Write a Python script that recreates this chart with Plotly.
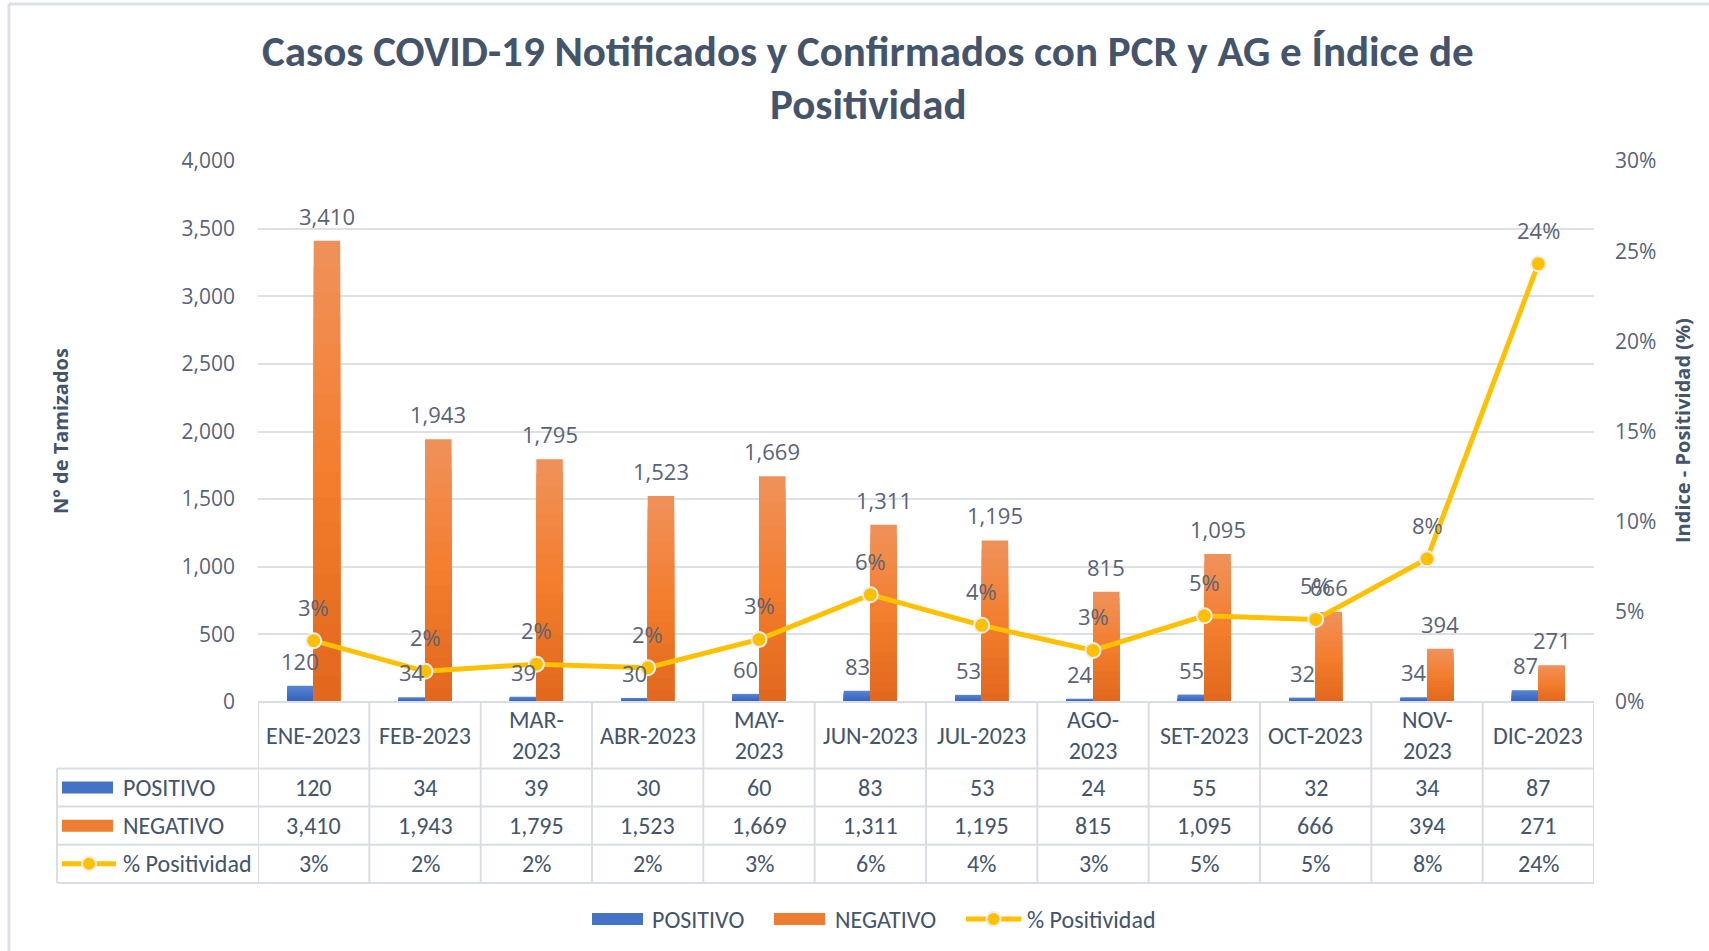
import plotly.graph_objects as go

# ---- data ----
months = ["ENE-2023", "FEB-2023", "MAR-2023", "ABR-2023", "MAY-2023", "JUN-2023",
          "JUL-2023", "AGO-2023", "SET-2023", "OCT-2023", "NOV-2023", "DIC-2023"]
header_labels = ["ENE-2023", "FEB-2023", "MAR-<br>2023", "ABR-2023", "MAY-<br>2023", "JUN-2023",
                 "JUL-2023", "AGO-<br>2023", "SET-2023", "OCT-2023", "NOV-<br>2023", "DIC-2023"]
positivo = [120, 34, 39, 30, 60, 83, 53, 24, 55, 32, 34, 87]
negativo = [3410, 1943, 1795, 1523, 1669, 1311, 1195, 815, 1095, 666, 394, 271]
positividad = [0.034, 0.017, 0.021, 0.019, 0.0347, 0.0595, 0.0425, 0.0286, 0.0478, 0.0458, 0.0794, 0.243]

left_ticks = [0, 500, 1000, 1500, 2000, 2500, 3000, 3500, 4000]
right_ticks = [0, 0.05, 0.10, 0.15, 0.20, 0.25, 0.30]

title_lines = ["Casos COVID-19 Notificados y Confirmados con PCR y AG e Índice de", "Positividad"]
series_names = ["POSITIVO", "NEGATIVO", "% Positividad"]

# ---- geometry (pixels) ----
W, H = 1709, 951
PL, PR, PT, PB = 258, 1594, 161, 702


def xp(px):
    return (px - PL) / (PR - PL)


def yp(py):
    return (PB - py) / (PB - PT)


BW = 0.238                      # bar width in category units
CAT_PX = (PR - PL) / len(months)
BW_PX = BW * CAT_PX

TXT = "#44546A"
TICK = "#5A6376"
GRID = "#DDE1E7"
BLUE = "#4472C4"
ORANGE = "#ED7D31"
GOLD = "#FFC000"
LABEL_FONT = "Segoe UI, Open Sans, Noto Sans, sans-serif"
TABLE_FONT = "Calibri, Lato, sans-serif"


def hex_to_rgb(h):
    h = h.lstrip("#")
    return tuple(int(h[i:i + 2], 16) for i in (0, 2, 4))


def interp(stops, f):
    for (f0, c0), (f1, c1) in zip(stops, stops[1:]):
        if f0 <= f <= f1:
            t = (f - f0) / (f1 - f0) if f1 > f0 else 0
            a, b = hex_to_rgb(c0), hex_to_rgb(c1)
            return "rgb(%d,%d,%d)" % tuple(round(a[i] + (b[i] - a[i]) * t) for i in range(3))
    return stops[-1][1]


blue_stops = [(0.0, "#3763B8"), (0.5, "#4472C8"), (1.0, "#5A86D3")]
orange_stops = [(0.0, "#E1671C"), (0.5, "#F47E2D"), (1.0, "#F0915C")]

fig = go.Figure()


def gradient_bars(values, stops, offset, n=18):
    # layered bars: each layer covers the lower part of the bar, giving a vertical gradient
    for k in range(n):
        f_top = 1 - k / n
        f_mid = f_top - 0.5 / n
        fig.add_trace(go.Bar(
            x=months, y=[v * f_top for v in values], width=BW, offset=offset,
            marker=dict(color=interp(stops, f_mid), line=dict(width=0)),
            showlegend=False, hoverinfo="skip", yaxis="y"))


gradient_bars(positivo, blue_stops, -BW)
gradient_bars(negativo, orange_stops, 0)

fig.add_trace(go.Scatter(
    x=months, y=positividad, yaxis="y2", mode="lines+markers", name=series_names[2],
    line=dict(color=GOLD, width=5),
    marker=dict(size=15, color=GOLD, line=dict(color="#EEEEEE", width=2)),
    showlegend=False))

ann = []
shapes = []

# data labels
lab_font = dict(family=LABEL_FONT, size=22, color=TICK)
for m, v in zip(months, positivo):
    ann.append(dict(x=m, y=v, xref="x", yref="y", text=f"{v:,}", showarrow=False,
                    xshift=-BW_PX / 2, yshift=25, font=lab_font))
for m, v in zip(months, negativo):
    ann.append(dict(x=m, y=v, xref="x", yref="y", text=f"{v:,}", showarrow=False,
                    xshift=BW_PX / 2, yshift=25, font=lab_font))
for m, v in zip(months, positividad):
    ann.append(dict(x=m, y=v, xref="x", yref="y2", text=f"{v:.0%}", showarrow=False,
                    yshift=34, font=lab_font))

# title
for line, ypix in zip(title_lines, [52, 104]):
    ann.append(dict(x=xp(868), y=yp(ypix), xref="paper", yref="paper", text=f"<b>{line}</b>",
                    showarrow=False, xanchor="center", yanchor="middle",
                    font=dict(family=TABLE_FONT, size=43, color=TXT)))

# axis titles
ann.append(dict(x=xp(60), y=yp(431), xref="paper", yref="paper", text="<b>N° de Tamizados</b>",
                textangle=-90, showarrow=False, xanchor="center", yanchor="middle",
                font=dict(family=LABEL_FONT, size=20, color=TXT)))
ann.append(dict(x=xp(1682), y=yp(431), xref="paper", yref="paper", text="<b>Indice - Positividad (%)</b>",
                textangle=-90, showarrow=False, xanchor="center", yanchor="middle",
                font=dict(family=LABEL_FONT, size=20, color=TXT)))

# ---- data table below the plot ----
row_top = [702, 768.4, 806.6, 844.7, 882.9]
header_c = (row_top[0] + row_top[1]) / 2
row_c = [(row_top[i] + row_top[i + 1]) / 2 for i in range(1, 4)]
tfont = dict(family=TABLE_FONT, size=24, color=TXT)
LINE = dict(color="#D9DEE5", width=2)

for m, lab in zip(months, header_labels):
    ann.append(dict(x=m, y=yp(header_c), xref="x", yref="paper", text=lab, showarrow=False,
                    xanchor="center", yanchor="middle", font=tfont))
rows = [[f"{v:,}" for v in positivo], [f"{v:,}" for v in negativo], [f"{v:.0%}" for v in positividad]]
for r, vals in enumerate(rows):
    for m, t in zip(months, vals):
        ann.append(dict(x=m, y=yp(row_c[r]), xref="x", yref="paper", text=t, showarrow=False,
                        xanchor="center", yanchor="middle", font=tfont))
    ann.append(dict(x=xp(121), y=yp(row_c[r]), xref="paper", yref="paper", text=series_names[r],
                    showarrow=False, xanchor="left", yanchor="middle", font=tfont))

# grid lines of the table
for i in range(len(months) + 1):
    shapes.append(dict(type="line", xref="x", yref="paper", x0=i - 0.5, x1=i - 0.5,
                       y0=yp(row_top[0]), y1=yp(row_top[-1]), line=LINE, layer="below"))
shapes.append(dict(type="line", xref="paper", yref="paper", x0=0, x1=1,
                   y0=yp(row_top[0]), y1=yp(row_top[0]), line=LINE))
for yline in row_top[1:]:
    shapes.append(dict(type="line", xref="paper", yref="paper", x0=xp(57), x1=1,
                       y0=yp(yline), y1=yp(yline), line=LINE))
shapes.append(dict(type="line", xref="paper", yref="paper", x0=xp(57), x1=xp(57),
                   y0=yp(row_top[1]), y1=yp(row_top[-1]), line=LINE))


def bar_key(x0, x1, yc, color):
    shapes.append(dict(type="rect", xref="paper", yref="paper", x0=xp(x0), x1=xp(x1),
                       y0=yp(yc + 6), y1=yp(yc - 6), fillcolor=color, line=dict(width=0)))


def line_key(x0, x1, yc):
    shapes.append(dict(type="line", xref="paper", yref="paper", x0=xp(x0), x1=xp(x1),
                       y0=yp(yc), y1=yp(yc), line=dict(color=GOLD, width=5)))
    cx = (x0 + x1) / 2
    shapes.append(dict(type="circle", xref="paper", yref="paper", x0=xp(cx - 7), x1=xp(cx + 7),
                       y0=yp(yc + 7), y1=yp(yc - 7), fillcolor=GOLD,
                       line=dict(color="#EEEEEE", width=2)))


bar_key(62, 113, row_c[0], BLUE)
bar_key(62, 113, row_c[1], ORANGE)
line_key(62, 116, row_c[2])

# ---- legend ----
LEG_Y = 919
bar_key(592, 643, LEG_Y, BLUE)
bar_key(774, 825, LEG_Y, ORANGE)
line_key(966, 1021, LEG_Y)
for x0, name in [(650, series_names[0]), (833, series_names[1]), (1025, series_names[2])]:
    ann.append(dict(x=xp(x0), y=yp(LEG_Y), xref="paper", yref="paper", text=name, showarrow=False,
                    xanchor="left", yanchor="middle", font=tfont))

# chart frame (top and left edges)
FRAME = dict(color="#DDE1E7", width=3)
shapes.append(dict(type="line", xref="paper", yref="paper", x0=xp(9), x1=xp(W + 5),
                   y0=yp(4), y1=yp(4), line=FRAME))
shapes.append(dict(type="line", xref="paper", yref="paper", x0=xp(9), x1=xp(9),
                   y0=yp(4), y1=yp(H + 5), line=FRAME))

fig.update_layout(
    width=W, height=H, autosize=False,
    margin=dict(l=PL, r=W - PR, t=PT, b=H - PB, pad=0),
    paper_bgcolor="white", plot_bgcolor="white",
    barmode="overlay", showlegend=False,
    xaxis=dict(type="category", categoryorder="array", categoryarray=months,
               range=[-0.5, len(months) - 0.5], showticklabels=False, showgrid=False,
               showline=False, zeroline=False, ticks="", fixedrange=True),
    yaxis=dict(range=[0, 4000], tickvals=left_ticks, tickformat=",", showgrid=True,
               gridcolor=GRID, gridwidth=2, zeroline=False, showline=False, ticks="",
               ticklabelstandoff=22, tickfont=dict(family=LABEL_FONT, size=21, color=TICK)),
    yaxis2=dict(range=[0, 0.30], tickvals=right_ticks, tickformat=".0%", overlaying="y",
                side="right", showgrid=False, zeroline=False, showline=False, ticks="",
                ticklabelstandoff=20, tickfont=dict(family=LABEL_FONT, size=21, color=TICK)),
    annotations=ann, shapes=shapes,
)

fig.write_html("out.html")
